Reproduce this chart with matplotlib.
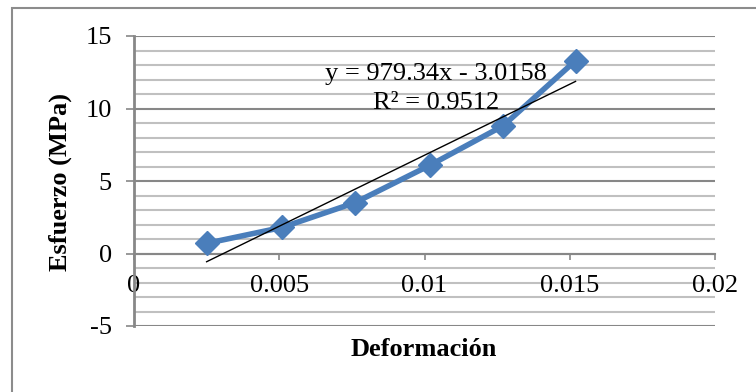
import matplotlib.pyplot as plt
from matplotlib.patches import Rectangle
import numpy as np

# Datos
deformacion = [0.0025, 0.0051, 0.0076, 0.0102, 0.0127, 0.0152]
esfuerzo = [0.7, 1.8, 3.5, 6.1, 8.8, 13.3]

# Linea de tendencia (ajuste lineal reportado)
pendiente = 979.34
intercepto = -3.0158
etiqueta_ecuacion = "y = 979.34x - 3.0158"
etiqueta_r2 = "R² = 0.9512"

x_ticks = [0, 0.005, 0.01, 0.015, 0.02]
x_tick_labels = ["0", "0.005", "0.01", "0.015", "0.02"]
y_ticks = [-5, 0, 5, 10, 15]

plt.rcParams['font.family'] = ['Liberation Serif', 'DejaVu Serif']
plt.rcParams['axes.unicode_minus'] = False

fs = 19

fig = plt.figure(figsize=(7.56, 3.92), dpi=100)
ax = fig.add_axes([134 / 756, 1 - 326 / 392, (715 - 134) / 756, (326 - 36) / 392])

# Marco exterior del grafico
fig.patches.append(Rectangle((12 / 756, -0.1), 1.2, 1 - 8 / 392 + 0.1,
                             transform=fig.transFigure, fill=False,
                             edgecolor="#8c8c8c", linewidth=1.5, clip_on=False))

ax.set_xlim(0, 0.02)
ax.set_ylim(-5, 15)

# Rejilla horizontal
for v in np.arange(-5, 16, 1):
    if v % 5 == 0:
        ax.axhline(v, color="#878787", linewidth=1.5, zorder=1)
    else:
        ax.axhline(v, color="#c0c0c0", linewidth=1.5, zorder=1)

x = np.array(deformacion)
ax.plot(x, esfuerzo, color="#4a7ebb", linewidth=4, marker="D",
        markersize=12, zorder=4, solid_joinstyle="round")

xt = np.array([deformacion[0], deformacion[-1]])
ax.plot(xt, pendiente * xt + intercepto, color="black", linewidth=1.0, zorder=5)

ax.text(0.0104, 12.4, etiqueta_ecuacion, ha="center", va="center", fontsize=fs, zorder=6)
ax.text(0.0104, 10.35, etiqueta_r2, ha="center", va="center", fontsize=fs, zorder=6)

for s in ["top", "right"]:
    ax.spines[s].set_visible(False)
ax.spines["left"].set_color("#878787")
ax.spines["left"].set_linewidth(2)
ax.spines["bottom"].set_position(("data", 0))
ax.spines["bottom"].set_color("#878787")
ax.spines["bottom"].set_linewidth(1.5)

ax.set_xticks(x_ticks)
ax.set_xticklabels(x_tick_labels)
ax.set_yticks(y_ticks)
ax.tick_params(axis="x", direction="out", length=4.5, width=1.2, color="#878787",
               pad=11, labelsize=fs)
ax.tick_params(axis="y", direction="out", length=6, width=1.2, color="#878787",
               pad=10, labelsize=fs)

fig.text(60 / 756, 1 - 182 / 392, "Esfuerzo (MPa)", rotation=90, ha="center",
         va="center", fontsize=fs, fontweight="bold")
fig.text(424 / 756, 1 - 350 / 392, "Deformación", ha="center", va="center",
         fontsize=fs, fontweight="bold")

fig.savefig("out.png", dpi=100)
